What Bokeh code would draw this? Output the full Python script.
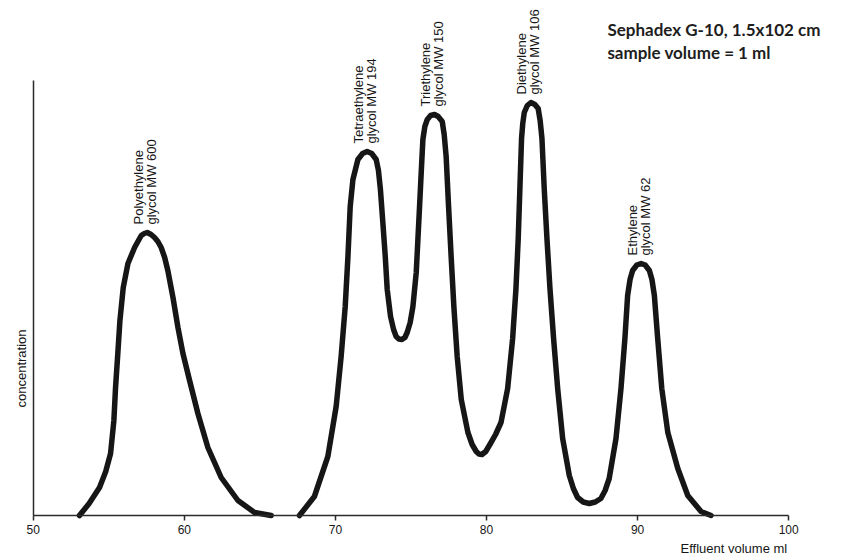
import math
from bokeh.plotting import figure
from bokeh.models import FixedTicker, Range1d
from bokeh.core.properties import value
from bokeh.embed import file_html
from bokeh.resources import INLINE

# ---- data (effluent volume in ml, concentration in arbitrary units) ----
peg600_ml = [53.06, 53.70, 54.39, 54.80, 55.12, 55.34, 55.45, 55.60, 55.74, 55.96, 56.27, 56.71,
             57.15, 57.35, 57.55, 57.80, 58.03, 58.25, 58.47, 58.70, 58.91, 59.25, 59.58, 59.91,
             60.35, 60.90, 61.56, 62.44, 63.55, 64.65, 65.75]
peg600_conc = [0, 12, 28, 44, 62, 95, 128, 162, 195, 228, 252, 268,
               280, 282, 283, 281, 278, 274, 268, 258, 245, 218, 188, 162,
               135, 102, 68, 38, 15, 3, 0]

mix_ml = [67.62, 68.61, 69.50, 70.05, 70.38, 70.65, 70.83, 70.98, 71.16, 71.49, 71.80, 72.10,
          72.40, 72.70, 72.85, 72.98, 73.14, 73.30, 73.43, 73.65, 73.85, 74.02, 74.20, 74.40,
          74.60, 74.75, 74.95, 75.13, 75.35, 75.46, 75.57, 75.68, 75.79, 75.92, 76.08, 76.30,
          76.56, 76.80, 77.07, 77.20, 77.33, 77.49, 77.66, 77.84, 78.06, 78.33, 78.77, 79.05,
          79.32, 79.50, 79.70, 79.95, 80.30, 80.60, 80.96, 81.40, 81.73, 81.95, 82.10, 82.21,
          82.32, 82.40, 82.50, 82.70, 82.94, 83.20, 83.42, 83.55, 83.67, 83.82, 84.00, 84.20,
          84.44, 84.71, 85.04, 85.48, 85.75, 86.03, 86.40, 86.80, 87.20, 87.57, 87.85, 88.12,
          88.57, 88.90, 89.16, 89.34, 89.50, 89.67, 89.95, 90.23, 90.50, 90.78, 90.95, 91.11,
          91.33, 91.60, 92.00, 92.66, 93.32, 94.20, 94.86]
mix_conc = [0, 19, 59, 109, 159, 209, 259, 309, 336, 356, 362, 364,
            362, 356, 345, 326, 293, 259, 226, 199, 186, 179, 176.5, 176,
            178, 183, 193, 209, 243, 276, 309, 343, 376, 389, 396, 400,
            401, 399, 394, 381, 359, 309, 259, 209, 159, 116, 83, 71,
            64, 61.5, 61, 64, 73, 81, 93, 127, 177, 227, 277, 327,
            377, 392, 403, 410, 413, 411, 407, 395, 377, 327, 277, 227,
            177, 127, 77, 40, 27, 18, 13.5, 12, 13.5, 17, 25, 37,
            77, 127, 177, 220, 236, 245, 250.5, 252, 250.5, 245, 236, 220,
            177, 127, 83, 47, 20, 4, 0]

peak_names = ["Polyethylene", "Tetraethylene", "Triethylene", "Diethylene", "Ethylene"]
peak_mw = ["glycol MW 600", "glycol MW 194", "glycol MW 150", "glycol MW 106", "glycol MW 62"]
peak_ml = [57.55, 72.10, 76.56, 82.94, 90.23]
peak_conc = [283, 364, 401, 413, 252]

x_ticks = [50, 60, 70, 80, 90, 100]
axis_top = 435

title_lines = ["Sephadex G-10,  1.5x102 cm", "sample volume = 1 ml"]
x_label = "Effluent volume ml"
y_label = "concentration"

# ---- figure: frame covers the whole canvas, axes pinned at x=50 / y=0 ----
px_per_ml = 15.11
x0_px = 32.7
x_start = 50 - x0_px / px_per_ml
x_end = x_start + 854 / px_per_ml
base_px = 515

p = figure(width=854, height=558, output_backend="svg", toolbar_location=None,
           x_range=Range1d(x_start, x_end), y_range=Range1d(-(558 - base_px), base_px),
           min_border=0)
p.outline_line_color = None
p.grid.visible = False
p.background_fill_color = "white"
p.border_fill_color = "white"

ink = "#161616"
font = value("Liberation Sans")

p.line(peg600_ml, peg600_conc, line_color=ink, line_width=5.5, line_join="round", line_cap="round")
p.line(mix_ml, mix_conc, line_color=ink, line_width=5.5, line_join="round", line_cap="round")

# peak labels: two rotated lines above each peak
gap = 8
p.text(x=peak_ml, y=[c + gap for c in peak_conc], text=peak_names, angle=math.pi / 2,
       x_offset=-9, text_align="left", text_baseline="middle",
       text_font=font, text_font_size="13px", text_color=ink)
p.text(x=peak_ml, y=[c + gap for c in peak_conc], text=peak_mw, angle=math.pi / 2,
       x_offset=4, text_align="left", text_baseline="middle",
       text_font=font, text_font_size="13px", text_color=ink)

# axes
xa = p.xaxis[0]
xa.fixed_location = 0
xa.ticker = FixedTicker(ticks=x_ticks)
xa.bounds = (50, 100)
xa.axis_line_color = "#2a2a2a"
xa.axis_line_width = 1.5
xa.major_tick_line_color = "#2a2a2a"
xa.major_tick_line_width = 1.5
xa.major_tick_in = 0
xa.major_tick_out = 5
xa.minor_tick_line_color = None
xa.major_label_standoff = 4
xa.major_label_text_font = "Liberation Sans"
xa.major_label_text_font_size = "12px"
xa.major_label_text_color = ink

ya = p.yaxis[0]
ya.fixed_location = 50
ya.ticker = FixedTicker(ticks=[])
ya.bounds = (0, axis_top)
ya.axis_line_color = "#2a2a2a"
ya.axis_line_width = 1.5
ya.major_tick_line_color = None
ya.minor_tick_line_color = None
ya.major_label_text_font_size = "0px"

# axis titles and header text (inside the frame, as text glyphs)
p.text(x=[50 - 12 / px_per_ml], y=[147], text=[y_label], angle=math.pi / 2,
       text_align="center", text_baseline="middle",
       text_font=font, text_font_size="13px", text_color=ink)
p.text(x=[92.84], y=[-33], text=[x_label], text_align="left", text_baseline="middle",
       text_font=font, text_font_size="13px", text_color=ink)
p.text(x=[88.0, 88.0], y=[486, 463], text=title_lines, text_align="left",
       text_baseline="alphabetic", text_font=value("Lato"), text_font_style="bold",
       text_font_size="17px", text_color="#1e1e1e")

open("out.html", "w").write(file_html(p, INLINE))
